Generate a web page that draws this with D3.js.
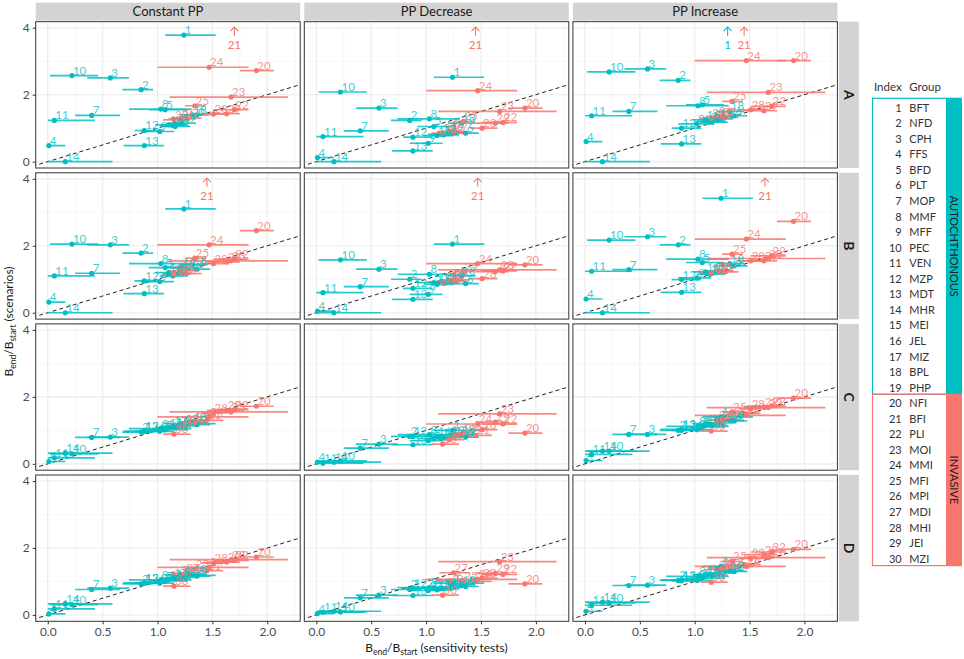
<!DOCTYPE html>
<html>
<head>
<meta charset="utf-8">
<script src="https://cdnjs.cloudflare.com/ajax/libs/d3/7.8.5/d3.min.js"></script>
<style>
body { margin: 0; background: #fff; }
text { font-family: Lato, "Noto Sans", sans-serif; }
</style>
</head>
<body>
<svg id="chart" width="964" height="659"></svg>
<script>
// groups, index 1..30 (1-19 autochthonous, 20-30 invasive)
var groupNames = ["BFT", "NFD", "CPH", "FFS", "BFD", "PLT", "MOP", "MMF", "MFF", "PEC",
    "VEN", "MZP", "MDT", "MHR", "MEI", "JEL", "MIZ", "BPL", "PHP",
    "NFI", "BFI", "PLI", "MOI", "MMI", "MFI", "MPI", "MDI", "MHI", "JEI", "MZI"];
var autoCount = 19;

var rowNames = ["A", "B", "C", "D"];
var colNames = ["Constant PP", "PP Decrease", "PP Increase"];

// sensitivity tests (same in every panel): value and range
var sensX  = [1.24, 0.85, 0.57, 0.01, 1.07, 1.36, 0.40, 1.03, 1.02, 0.22, 0.06, 0.88, 0.88, 0.16, 1.16, 1.10, 1.14, 1.32, 1.22,
              1.90, 1.45, 1.70, 1.67, 1.47, 1.34, 1.21, 1.25, 1.51, 1.63, 1.15];
var sensLo = [1.07, 0.68, 0.36, 0.00, 0.92, 1.22, 0.25, 0.74, 0.85, 0.02, 0.00, 0.79, 0.69, 0.00, 1.05, 0.98, 1.02, 1.20, 1.10,
              1.75, 1.30, 1.51, 1.11, 1.00, 1.25, 1.10, 1.12, 1.40, 1.45, 1.05];
var sensHi = [1.53, 0.96, 0.74, 0.16, 1.27, 1.48, 0.66, 1.31, 1.15, 0.46, 0.43, 1.06, 1.06, 0.59, 1.30, 1.25, 1.28, 1.45, 1.35,
              2.06, 1.60, 1.83, 2.19, 1.83, 1.44, 1.35, 1.40, 1.65, 1.75, 1.30];

// scenarios, one array per panel (null = off the top of the panel)
var yA_const = [3.78, 2.15, 2.50, 0.48, 1.55, 1.40, 1.38, 1.57, 0.90, 2.57, 1.23, 0.93, 0.48, 0.00, 1.05, 1.10, 1.08, 1.40, 1.15,
                2.72, null, 1.55, 1.93, 2.82, 1.67, 1.28, 1.30, 1.42, 1.43, 1.25];
var yA_dec   = [2.52, 1.23, 1.60, 0.12, 1.05, 0.85, 0.92, 1.28, 0.55, 2.08, 0.75, 0.73, 0.32, 0.00, 0.80, 0.78, 0.82, 1.15, 0.88,
                1.60, null, 1.17, 1.50, 2.12, 1.20, 0.90, 0.88, 1.00, 1.15, 0.85];
var yA_inc   = [null, 2.43, 2.77, 0.60, 1.70, 1.37, 1.50, 1.67, 1.13, 2.68, 1.37, 1.00, 0.53, 0.00, 1.18, 1.25, 1.20, 1.50, 1.28,
                3.02, null, 1.65, 2.07, 3.02, 1.80, 1.35, 1.32, 1.55, 1.52, 1.30];
var yB_const = [3.10, 1.78, 2.03, 0.32, 1.35, 1.30, 1.18, 1.47, 0.93, 2.05, 1.10, 0.95, 0.57, 0.00, 1.15, 1.20, 1.10, 1.43, 1.35,
                2.45, null, 1.60, 1.55, 2.03, 1.63, 1.25, 1.17, 1.47, 1.52, 1.15];
var yB_dec   = [2.05, 1.00, 1.30, 0.05, 0.90, 0.87, 0.78, 1.15, 0.55, 1.58, 0.60, 0.73, 0.40, 0.00, 0.88, 0.85, 0.92, 1.10, 0.95,
                1.43, null, 1.25, 1.28, 1.47, 1.23, 0.95, 0.98, 1.02, 1.23, 0.90];
var yB_inc   = [3.42, 2.03, 2.27, 0.41, 1.50, 1.40, 1.29, 1.60, 1.04, 2.17, 1.24, 0.99, 0.61, 0.00, 1.18, 1.22, 1.15, 1.47, 1.25,
                2.73, null, 1.70, 1.62, 2.20, 1.75, 1.25, 1.22, 1.55, 1.55, 1.20];
var yC_const = [1.20, 0.95, 0.80, 0.07, 1.02, 1.17, 0.79, 1.05, 0.97, 0.30, 0.18, 0.97, 0.98, 0.32, 1.10, 1.08, 1.12, 1.25, 1.13,
                1.72, 1.30, 1.62, 1.55, 1.40, 1.25, 1.15, 1.20, 1.52, 1.60, 0.89];
var yC_dec   = [1.00, 0.82, 0.59, 0.05, 0.75, 0.80, 0.47, 0.87, 0.69, 0.09, 0.02, 0.82, 0.57, 0.05, 0.78, 0.82, 0.76, 0.88, 0.85,
                0.92, 0.85, 1.19, 1.49, 1.19, 0.92, 0.72, 0.82, 1.02, 1.25, 0.59];
var yC_inc   = [1.40, 1.00, 0.88, 0.10, 1.10, 1.28, 0.88, 1.12, 1.02, 0.38, 0.28, 1.00, 1.03, 0.38, 1.15, 1.20, 1.18, 1.30, 1.22,
                1.96, 1.50, 1.73, 1.68, 1.45, 1.55, 1.30, 1.32, 1.64, 1.70, 0.98];
var yD_const = [1.18, 0.93, 0.80, 0.03, 1.02, 1.16, 0.76, 1.05, 0.95, 0.31, 0.18, 0.95, 0.96, 0.33, 1.08, 1.05, 1.10, 1.22, 1.12,
                1.73, 1.32, 1.63, 1.65, 1.42, 1.38, 1.20, 1.25, 1.55, 1.58, 0.86];
var yD_dec   = [0.95, 0.76, 0.59, 0.04, 0.80, 0.85, 0.51, 0.82, 0.73, 0.09, 0.08, 0.80, 0.58, 0.11, 0.78, 0.75, 0.80, 0.90, 0.82,
                0.93, 1.00, 1.21, 1.59, 1.06, 1.00, 1.02, 1.26, 1.10, 1.24, 0.59];
var yD_inc   = [1.45, 1.03, 0.89, 0.11, 1.10, 1.30, 0.88, 1.15, 1.03, 0.36, 0.29, 1.02, 1.05, 0.38, 1.18, 1.20, 1.22, 1.32, 1.25,
                1.96, 1.50, 1.88, 1.71, 1.45, 1.60, 1.35, 1.40, 1.69, 1.80, 0.98];

// off-scale markers (arrow + index)
var arrowMarks = [
    {row: "A", col: "Constant PP", index: 21, x: 1.70},
    {row: "A", col: "PP Decrease", index: 21, x: 1.45},
    {row: "A", col: "PP Increase", index: 1,  x: 1.30},
    {row: "A", col: "PP Increase", index: 21, x: 1.45},
    {row: "B", col: "Constant PP", index: 21, x: 1.45},
    {row: "B", col: "PP Decrease", index: 21, x: 1.47},
    {row: "B", col: "PP Increase", index: 21, x: 1.64}
];

var xTicks = [0, 0.5, 1, 1.5, 2];
var xMinor = [0.25, 0.75, 1.25, 1.75, 2.25];
var yTicks = [0, 2, 4];
var yMinor = [1, 3];

var scenarioY = {
    A: [yA_const, yA_dec, yA_inc],
    B: [yB_const, yB_dec, yB_inc],
    C: [yC_const, yC_dec, yC_inc],
    D: [yD_const, yD_dec, yD_inc]
};

var teal = "#00BFC4", red = "#F8766D";
function groupColor(i) { return i < autoCount ? teal : red; }

var left = 35.7, top0 = 21.7, pw = 264.5, ph = 146.3, stepX = 268.6, stepY = 151.1;

var x = d3.scaleLinear().domain([-0.11, 2.30]).range([0, pw]);
var y = d3.scaleLinear().domain([-0.19, 4.18]).range([ph, 0]);

var svg = d3.select("#chart");
svg.append("rect").attr("width", 964).attr("height", 659).attr("fill", "#fff");

svg.append("defs").append("clipPath").attr("id", "panelClip")
    .append("rect").attr("width", pw).attr("height", ph);

rowNames.forEach(function (rowName, r) {
    colNames.forEach(function (colName, c) {
        var g = svg.append("g")
            .attr("transform", "translate(" + (left + c * stepX) + "," + (top0 + r * stepY) + ")");
        var inner = g.append("g").attr("clip-path", "url(#panelClip)");

        inner.append("rect").attr("width", pw).attr("height", ph).attr("fill", "#fff");

        // grid
        inner.selectAll(".gxm").data(xMinor).enter().append("line")
            .attr("x1", d => x(d)).attr("x2", d => x(d)).attr("y1", 0).attr("y2", ph)
            .attr("stroke", "#F2F2F2").attr("stroke-width", 0.6);
        inner.selectAll(".gym").data(yMinor).enter().append("line")
            .attr("y1", d => y(d)).attr("y2", d => y(d)).attr("x1", 0).attr("x2", pw)
            .attr("stroke", "#F2F2F2").attr("stroke-width", 0.6);
        inner.selectAll(".gx").data(xTicks).enter().append("line")
            .attr("x1", d => x(d)).attr("x2", d => x(d)).attr("y1", 0).attr("y2", ph)
            .attr("stroke", "#EBEBEB").attr("stroke-width", 1.1);
        inner.selectAll(".gy").data(yTicks).enter().append("line")
            .attr("y1", d => y(d)).attr("y2", d => y(d)).attr("x1", 0).attr("x2", pw)
            .attr("stroke", "#EBEBEB").attr("stroke-width", 1.1);

        // 1:1 line
        inner.append("line")
            .attr("x1", x(-0.2)).attr("y1", y(-0.2)).attr("x2", x(2.4)).attr("y2", y(2.4))
            .attr("stroke", "#222").attr("stroke-width", 1).attr("stroke-dasharray", "4,3");

        var vals = scenarioY[rowName][c];
        var pts = [];
        vals.forEach(function (v, i) {
            if (v !== null) pts.push({i: i, v: v});
        });

        inner.selectAll(".bar").data(pts).enter().append("line")
            .attr("x1", d => x(sensLo[d.i])).attr("x2", d => x(sensHi[d.i]))
            .attr("y1", d => y(d.v)).attr("y2", d => y(d.v))
            .attr("stroke", d => groupColor(d.i)).attr("stroke-width", 1.7).attr("stroke-opacity", 0.85);

        inner.selectAll(".pt").data(pts).enter().append("circle")
            .attr("cx", d => x(sensX[d.i])).attr("cy", d => y(d.v)).attr("r", 2.6)
            .attr("fill", d => groupColor(d.i));

        inner.selectAll(".lab").data(pts).enter().append("text")
            .attr("x", d => x(sensX[d.i]) + 1).attr("y", d => y(d.v) - 1)
            .attr("font-size", 11.5).attr("fill", d => groupColor(d.i)).attr("fill-opacity", 0.8)
            .text(d => d.i + 1);

        // off-scale arrows
        var arr = arrowMarks.filter(a => a.row === rowName && a.col === colName);
        var yTop = y.domain()[1];
        arr.forEach(function (a) {
            var col = groupColor(a.index - 1);
            var ax = x(a.x);
            var ag = inner.append("g").attr("stroke", col).attr("fill", "none").attr("stroke-width", 1.1);
            ag.append("line").attr("x1", ax).attr("x2", ax).attr("y1", y(yTop - 0.16)).attr("y2", y(yTop - 0.42));
            ag.append("path").attr("d", "M" + (ax - 4) + "," + (y(yTop - 0.16) + 4) + "L" + ax + "," + y(yTop - 0.16) +
                "L" + (ax + 4) + "," + (y(yTop - 0.16) + 4));
            inner.append("text").attr("x", ax).attr("y", y(yTop - 0.82))
                .attr("text-anchor", "middle").attr("font-size", 11.5).attr("fill", col)
                .text(a.index);
        });

        g.append("rect").attr("width", pw).attr("height", ph)
            .attr("fill", "none").attr("stroke", "#333").attr("stroke-width", 1);

        // axes
        if (c === 0) {
            var ya = g.append("g").call(d3.axisLeft(y).tickValues(yTicks).tickFormat(d3.format("d"))
                .tickSize(3).tickPadding(3));
            ya.select(".domain").remove();
            ya.selectAll("line").attr("stroke", "#333");
            ya.selectAll("text").attr("font-size", 12).attr("fill", "#4D4D4D")
                .style("font-family", "Lato, 'Noto Sans', sans-serif");
        }
        if (r === rowNames.length - 1) {
            var xa = g.append("g").attr("transform", "translate(0," + ph + ")")
                .call(d3.axisBottom(x).tickValues(xTicks).tickFormat(d3.format(".1f")).tickSize(3).tickPadding(3));
            xa.select(".domain").remove();
            xa.selectAll("line").attr("stroke", "#333");
            xa.selectAll("text").attr("font-size", 12).attr("fill", "#4D4D4D")
                .style("font-family", "Lato, 'Noto Sans', sans-serif");
        }

        // strips
        if (r === 0) {
            g.append("rect").attr("x", 0).attr("y", -19).attr("width", pw).attr("height", 18)
                .attr("fill", "#D3D3D3");
            g.append("text").attr("x", pw / 2).attr("y", -5.5).attr("text-anchor", "middle")
                .attr("font-size", 13).attr("fill", "#1a1a1a").text(colName);
        }
        if (c === colNames.length - 1) {
            g.append("rect").attr("x", pw + 1.5).attr("y", 0).attr("width", 20).attr("height", ph)
                .attr("fill", "#D3D3D3");
            g.append("text").attr("transform", "translate(" + (pw + 6.5) + "," + (ph / 2) + ") rotate(90)")
                .attr("text-anchor", "middle").attr("font-size", 14).attr("font-weight", "bold")
                .attr("fill", "#1a1a1a").text(rowName);
        }
    });
});

// axis titles
var xt = svg.append("text").attr("x", left + (stepX * 2 + pw) / 2).attr("y", 652)
    .attr("text-anchor", "middle").attr("font-size", 12).attr("fill", "#1a1a1a");
xt.append("tspan").text("B");
xt.append("tspan").attr("font-size", 8.5).attr("dy", 3).text("end");
xt.append("tspan").attr("dy", -3).text("/B");
xt.append("tspan").attr("font-size", 8.5).attr("dy", 3).text("start");
xt.append("tspan").attr("dy", -3).text(" (sensitivity tests)");

var yt = svg.append("text").attr("transform", "translate(13," + (top0 + (stepY * 3 + ph) / 2) + ") rotate(-90)")
    .attr("text-anchor", "middle").attr("font-size", 12).attr("fill", "#1a1a1a");
yt.append("tspan").text("B");
yt.append("tspan").attr("font-size", 8.5).attr("dy", 3).text("end");
yt.append("tspan").attr("dy", -3).text("/B");
yt.append("tspan").attr("font-size", 8.5).attr("dy", 3).text("start");
yt.append("tspan").attr("dy", -3).text(" (scenarios)");

// legend table
var lg = svg.append("g");
var lx0 = 872.5, lx1 = 962, rowH = 15.55, firstRowY = 107.7, boxTop = 98.3;
var numX = 901.7, nameX = 909.3;
lg.append("text").attr("x", numX).attr("y", 90.5).attr("text-anchor", "end")
    .attr("font-size", 11.5).attr("fill", "#333").text("Index");
lg.append("text").attr("x", nameX).attr("y", 90.5)
    .attr("font-size", 11.5).attr("fill", "#333").text("Group");

var splitY = boxTop + autoCount * rowH + 0.5;
var endY = boxTop + groupNames.length * rowH + 0.8;
var blocks = [
    {label: "AUTOCHTHONOUS", y0: boxTop, y1: splitY, color: teal},
    {label: "INVASIVE", y0: splitY, y1: endY, color: red}
];
blocks.forEach(function (b) {
    lg.append("rect").attr("x", lx1 - 16).attr("y", b.y0).attr("width", 16).attr("height", b.y1 - b.y0)
        .attr("fill", b.color);
    lg.append("rect").attr("x", lx0).attr("y", b.y0).attr("width", lx1 - lx0 - 1).attr("height", b.y1 - b.y0)
        .attr("fill", "none").attr("stroke", b.color).attr("stroke-width", 1.2);
    lg.append("text").attr("transform", "translate(" + (lx1 - 12) + "," + ((b.y0 + b.y1) / 2) + ") rotate(90)")
        .attr("text-anchor", "middle").attr("font-size", 11).attr("fill", "#222").text(b.label);
});

lg.selectAll(".lrow").data(groupNames).enter().append("g").each(function (d, i) {
    var gy = firstRowY + i * rowH + 4;
    d3.select(this).append("text").attr("x", numX).attr("y", gy).attr("text-anchor", "end")
        .attr("font-size", 11).attr("fill", "#333").text(i + 1);
    d3.select(this).append("text").attr("x", nameX).attr("y", gy)
        .attr("font-size", 11).attr("fill", "#333").text(d);
});
</script>
</body>
</html>
